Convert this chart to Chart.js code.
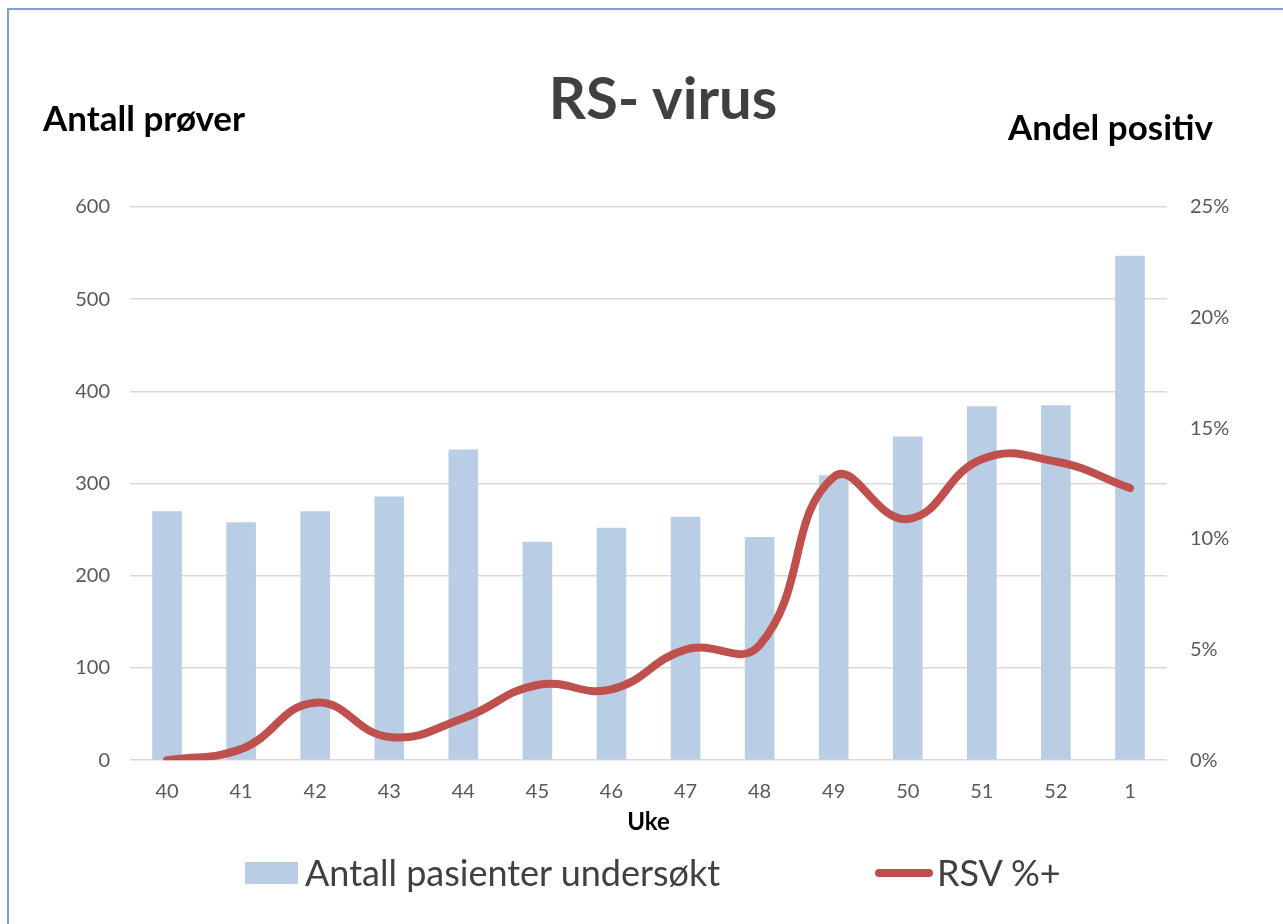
<!DOCTYPE html>
<html lang="no">
<head>
    <meta charset="UTF-8">
    <title>RS- virus</title>
    <style>
        body {
            margin: 0;
            background: #ffffff;
            font-family: Lato, sans-serif;
            overflow: hidden;
        }
        #wrap {
            position: relative;
            width: 1283px;
            height: 924px;
        }
        #frame {
            position: absolute;
            left: 7px;
            top: 8px;
            width: 1400px;
            height: 1000px;
            border: 2px solid #7ba1d6;
        }
        .lbl {
            position: absolute;
            font-weight: bold;
            white-space: nowrap;
        }
        #title {
            left: 0;
            width: 1326px;
            top: 62px;
            text-align: center;
            font-size: 58px;
            color: #404040;
        }
        #leftLbl {
            left: 43px;
            top: 96px;
            font-size: 35px;
            color: #000;
        }
        #rightLbl {
            left: 1008px;
            top: 105px;
            font-size: 35px;
            color: #000;
        }
        canvas {
            position: absolute;
            left: 0;
            top: 0;
        }
        #legend {
            position: absolute;
            top: 850px;
            left: 245px;
            height: 44px;
            white-space: nowrap;
            font-size: 36px;
            color: #404040;
        }
        .item {
            position: absolute;
            top: 0;
            height: 44px;
            line-height: 44px;
        }
        .swatch {
            position: absolute;
            left: 0;
        }
        .item span {
            position: absolute;
            top: 0;
        }
    </style>
</head>
<body>
<div id="wrap">
    <div id="frame"></div>
    <canvas id="rsvChart" width="1283" height="924"></canvas>
    <div class="lbl" id="title">RS- virus</div>
    <div class="lbl" id="leftLbl">Antall prøver</div>
    <div class="lbl" id="rightLbl">Andel positiv</div>
    <div id="legend"></div>
</div>
<script src="https://cdn.jsdelivr.net/npm/chart.js@4.4.1/dist/chart.umd.min.js"></script>
<script>
    // uke-nummer
    const weeks = ['40', '41', '42', '43', '44', '45', '46', '47', '48', '49', '50', '51', '52', '1'];
    // antall pasienter undersøkt
    const tested = [270, 258, 270, 286, 337, 237, 252, 264, 242, 309, 351, 384, 385, 547];
    // andel positive, prosent
    const rsvPct = [0, 0.5, 2.6, 1.05, 1.9, 3.4, 3.2, 5.0, 5.2, 12.8, 10.9, 13.6, 13.5, 12.3];

    const tickColor = '#595959';
    const gridColor = '#d9d9d9';

    let ctx = document.getElementById('rsvChart').getContext('2d');

    let chart = new Chart(ctx, {
        type: 'bar',
        data: {
            labels: weeks,
            datasets: [
                {
                    type: 'bar',
                    label: 'Antall pasienter undersøkt',
                    data: tested,
                    backgroundColor: '#b9cde5',
                    borderWidth: 0,
                    barPercentage: 0.4,
                    categoryPercentage: 1.0,
                    yAxisID: 'y',
                    order: 2
                },
                {
                    type: 'line',
                    label: 'RSV %+',
                    data: rsvPct,
                    borderColor: '#c0504d',
                    backgroundColor: '#c0504d',
                    borderWidth: 8,
                    borderCapStyle: 'round',
                    borderJoinStyle: 'round',
                    pointRadius: 0,
                    tension: 0.45,
                    yAxisID: 'y2',
                    order: 1
                }
            ]
        },
        options: {
            responsive: false,
            animation: false,
            layout: {
                padding: { top: 207, bottom: 87, left: 0, right: 0 }
            },
            plugins: {
                title: { display: false },
                tooltip: { enabled: false },
                legend: { display: false }
            },
            scales: {
                x: {
                    grid: { display: false, drawTicks: false },
                    border: { display: false },
                    ticks: {
                        color: tickColor,
                        padding: 19,
                        font: { family: 'Lato', size: 20 }
                    },
                    title: {
                        display: true,
                        text: 'Uke',
                        color: '#000',
                        padding: { top: -14, bottom: 0 },
                        font: { family: 'Lato', size: 24, weight: 'bold' }
                    }
                },
                y: {
                    position: 'left',
                    min: 0,
                    max: 600,
                    ticks: {
                        stepSize: 100,
                        color: tickColor,
                        padding: 20,
                        font: { family: 'Lato', size: 20 }
                    },
                    grid: {
                        color: gridColor,
                        lineWidth: 1.5,
                        drawTicks: false
                    },
                    border: { display: false },
                    afterFit: function (scale) { scale.width = 130; }
                },
                y2: {
                    position: 'right',
                    min: 0,
                    max: 25,
                    ticks: {
                        stepSize: 5,
                        color: tickColor,
                        padding: 23,
                        font: { family: 'Lato', size: 20 },
                        callback: function (v) { return v + '%'; }
                    },
                    grid: { display: false, drawTicks: false },
                    border: { display: false },
                    afterFit: function (scale) { scale.width = 116; }
                }
            }
        }
    });

    // legend i HTML, bygget fra datasettene
    let legend = document.getElementById('legend');
    let offsets = [0, 630];
    chart.data.datasets.forEach(function (ds, i) {
        let item = document.createElement('div');
        item.className = 'item';
        item.style.left = offsets[i] + 'px';
        let sw = document.createElement('div');
        sw.className = 'swatch';
        if (ds.type === 'bar') {
            sw.style.cssText = 'top:12px;width:53px;height:22px;background:' + ds.backgroundColor;
        } else {
            sw.style.cssText = 'top:19px;width:58px;height:8px;border-radius:4px;background:' + ds.borderColor;
        }
        let txt = document.createElement('span');
        txt.textContent = ds.label;
        txt.style.left = (ds.type === 'bar' ? 60 : 62) + 'px';
        item.appendChild(sw);
        item.appendChild(txt);
        legend.appendChild(item);
    });
</script>
</body>
</html>
